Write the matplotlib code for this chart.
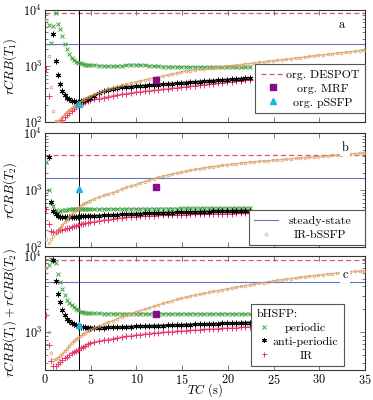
import numpy as np
import matplotlib
matplotlib.use('Agg')
import matplotlib.pyplot as plt
from matplotlib.lines import Line2D
from matplotlib.offsetbox import VPacker
from matplotlib.ticker import LogLocator, NullFormatter

plt.rcParams['font.family'] = ['cmr10', 'DejaVu Serif']
plt.rcParams['mathtext.fontset'] = 'cm'
plt.rcParams['axes.formatter.use_mathtext'] = True
plt.rcParams['axes.unicode_minus'] = False

nan = np.nan

# ---------------- data ----------------
TC_early = [0.15, 0.4, 0.65, 0.9, 1.15, 1.4, 1.65, 1.9, 2.15, 2.4,
            2.65, 2.9, 3.15, 3.4, 3.65, 3.9, 4.15, 4.4, 4.65, 4.9]
TC_late = np.arange(5.4, 22.41, 0.5)       # bHSFP samples (rest hidden by legend)
TC_late_tan = np.arange(5.4, 34.91, 0.5)   # IR-bSSFP samples

# panel a : rCRB(T1)
a_per_early = [nan, 5400, 2600, 5200, 8700, 5600, 4600, 3500, 2500, 1980, 1620, 1420, 1300, 1210, 1160, 1120, 1090, 1070, 1055, 1045]
a_per_late = [1035, 1020, 1005, 995, 990, 995, 1010, 1035, 1055, 1060, 1050, 1035, 1015, 1000, 990, 985, 980, 976, 973, 970, 968, 966, 964, 962, 960, 958, 957, 956, 955, 954, 953, 952, 951, 950, 950]
a_anti_early = [nan, nan, nan, 3700, 1250, 700, 480, 365, 310, 272, 255, 243, 236, 232, 232, 236, 243, 252, 263, 276]
a_anti_late = [300, 328, 355, 378, 394, 407, 417, 424, 431, 438, 445, 451, 457, 463, 470, 476, 483, 489, 496, 503, 510, 517, 524, 531, 538, 545, 552, 559, 567, 574, 582, 590, 598, 606, 614]
a_ir_early = [880, 300, 90, 75, 75, 88, 102, 112, 123, 135, 147, 160, 173, 187, 200, 212, 222, 231, 239, 247]
a_ir_late = [255, 265, 275, 285, 295, 305, 315, 325, 335, 342, 349, 356, 364, 372, 379, 387, 395, 404, 412, 421, 430, 439, 448, 457, 467, 476, 486, 497, 507, 518, 528, 540, 551, 562, 574]
a_tan_early = [6600, 1500, 420, 160, 104, 104, 112, 125, 138, 152, 165, 178, 192, 205, 218, 232, 247, 262, 277, 292]
a_tan_late = [316, 339, 363, 389, 412, 434, 455, 476, 497, 519, 542, 566, 592, 617, 643, 668, 695, 721, 755, 794,
              816, 834, 853, 873, 892, 912, 932, 953, 975, 996, 1019, 1042, 1065, 1089, 1113, 1138, 1164, 1190, 1217, 1244,
              1272, 1301, 1330, 1360, 1390, 1422, 1454, 1486, 1520, 1554, 1589, 1624, 1661, 1698, 1736, 1775, 1815, 1856, 1897, 1940]

# panel b : rCRB(T2)
b_per_early = [3140, 1000, 600, 520, 440, 410, 420, 435, 445, 450, 455, 458, 460, 460, 458, 456, 455, 455, 456, 457]
b_per_late = [458, 458, 459, 460, 460, 461, 462, 462, 463, 464, 465, 466, 466, 467, 468, 469, 470, 470, 471, 472, 473, 474, 474, 475, 476, 477, 478, 478, 479, 480, 481, 482, 483, 484, 485]
b_anti_early = [nan, 3820, 620, 425, 375, 345, 335, 333, 333, 334, 335, 336, 337, 338, 340, 342, 344, 346, 348, 350]
b_anti_late = [350, 353, 356, 360, 363, 367, 370, 374, 377, 380, 383, 386, 389, 392, 394, 397, 399, 401, 403, 405, 407, 409, 411, 413, 415, 417, 419, 420, 422, 423, 425, 426, 428, 429, 430]
b_ir_early = [462, 248, 188, 180, 183, 188, 194, 200, 206, 212, 218, 224, 230, 236, 242, 248, 253, 258, 263, 268]
b_ir_late = [276, 284, 292, 300, 308, 315, 322, 328, 334, 339, 343, 347, 350, 353, 356, 359, 361, 363, 365, 367, 369, 371, 373, 375, 377, 378, 380, 381, 383, 384, 385, 386, 388, 389, 390]
b_tan_early = [135, 115, 135, 155, 175, 195, 215, 240, 270, 300, 335, 370, 410, 450, 490, 525, 560, 590, 620, 650]
b_tan_late = [690, 745, 800, 850, 900, 960, 1040, 1110, 1180, 1250, 1330, 1410, 1500, 1590, 1670, 1750, 1830, 1910, 1990, 2070,
              2150, 2230, 2300, 2380, 2450, 2520, 2590, 2660, 2720, 2790, 2850, 2910, 2970, 3030, 3090, 3140, 3190, 3240, 3290, 3340,
              3400, 3450, 3500, 3560, 3610, 3670, 3720, 3780, 3830, 3890, 3940, 4000, 4060, 4120, 4180, 4240, 4310, 4380, 4450, 4520]

# panel c : rCRB(T1) + rCRB(T2)
c_per_early = [nan, 7560, 9000, 8500, 8100, 5700, 4580, 3640, 3070, 2640, 2400, 2270, 2130, 2020, 1930, 1860, 1820, 1795, 1780, 1770]
c_per_late = [1760, 1755, 1750, 1748, 1745, 1743, 1742, 1741, 1740, 1740, 1739, 1739, 1738, 1738, 1738, 1737, 1737, 1737, 1736, 1736, 1736, 1736, 1735, 1735, 1735, 1735, 1735, 1734, 1734, 1734, 1734, 1734, 1733, 1733, 1733]
c_anti_early = [nan, nan, nan, 8800, 4670, 3130, 2460, 1960, 1680, 1490, 1400, 1330, 1280, 1240, 1200, 1180, 1165, 1155, 1150, 1148]
c_anti_late = [1146, 1146, 1148, 1152, 1157, 1162, 1168, 1174, 1180, 1186, 1192, 1198, 1204, 1210, 1216, 1222, 1228, 1234, 1240, 1246, 1252, 1258, 1264, 1270, 1276, 1282, 1288, 1294, 1300, 1306, 1312, 1318, 1324, 1330, 1336]
c_ir_early = [1680, 680, 420, 360, 358, 380, 405, 430, 455, 480, 505, 528, 550, 572, 593, 612, 640, 665, 690, 712]
c_ir_late = [735, 758, 780, 800, 820, 840, 860, 880, 900, 915, 930, 945, 958, 970, 982, 994, 1005, 1015, 1025, 1035, 1045, 1055, 1065, 1075, 1085, 1094, 1103, 1112, 1121, 1130, 1140, 1150, 1160, 1170, 1180]
c_tan_early = [6900, 1000, 530, 435, 440, 460, 485, 520, 565, 610, 660, 715, 765, 810, 850, 890, 935, 980, 1030, 1080]
c_tan_late = [1130, 1199, 1271, 1343, 1419, 1496, 1574, 1656, 1738, 1824, 1910, 2000, 2089, 2183, 2280, 2377, 2477, 2576, 2679, 2780,
              2871, 2958, 3048, 3133, 3221, 3311, 3404, 3491, 3581, 3673, 3767, 3864, 3963, 4064, 4159, 4256, 4355, 4457, 4560, 4656,
              4753, 4842, 4932, 5023, 5117, 5212, 5309, 5395, 5483, 5572, 5662, 5754, 5834, 5916, 5998, 6067, 6152, 6223, 6295, 6368]

# reference values per panel (a, b, c)
despot = [8740, 4140, 8800]
steady = [2480, 1610, 4580]
mrf_val = [570, 1140, 1730]
pssfp_val = [212, 1030, 1245]
TC_mrf = 12.1
TC_pssfp = 3.75
TC_vline = 3.75

panel_letters = ['a', 'b', 'c']
ylabels = [r'$rCRB(T_1)$', r'$rCRB(T_2)$', r'$rCRB(T_1) + rCRB(T_2)$']
ylims = [(100, 10000), (100, 10000), (320, 10000)]
xticks = [0, 5, 10, 15, 20, 25, 30, 35]

series = [
    (a_per_early + a_per_late, a_anti_early + a_anti_late, a_ir_early + a_ir_late, a_tan_early + a_tan_late),
    (b_per_early + b_per_late, b_anti_early + b_anti_late, b_ir_early + b_ir_late, b_tan_early + b_tan_late),
    (c_per_early + c_per_late, c_anti_early + c_anti_late, c_ir_early + c_ir_late, c_tan_early + c_tan_late),
]

# ---------------- styles ----------------
C_GREEN = '#3fa23f'
C_BLACK = '#000000'
C_RED = '#e8336b'
C_TAN = '#d69a5c'
C_DASH = '#e0507e'
C_BLUE = '#6a72c8'
C_PURPLE = '#8b0a8b'
C_CYAN = '#1fb3e8'
FS = 8.6

fig = plt.figure(figsize=(3.73, 4.0), dpi=100)
W, H = 373.0, 400.0
boxes = [(10, 122.3), (133.3, 246.7), (255.7, 370)]
axes = []
for (top, bot) in boxes:
    axes.append(fig.add_axes([45 / W, 1 - bot / H, 320 / W, (bot - top) / H]))

tc_b = list(TC_early) + list(TC_late)
tc_t = list(TC_early) + list(TC_late_tan)
BAND_START = 11   # band look (connecting line) from TC ~2.9 on
TAN_START = 4


def centered_legend(ax, handles, labels, anchor, title=None, hl=2.0, min_w=0):
    leg = ax.legend(handles, labels, loc='lower right', bbox_to_anchor=anchor,
                    borderaxespad=0, frameon=True, fancybox=False, edgecolor='#555555',
                    framealpha=1, fontsize=FS, handlelength=hl, handletextpad=0.15,
                    borderpad=0.45, labelspacing=0.3, title=title, title_fontsize=FS,
                    alignment='left')
    leg.get_frame().set_linewidth(0.8)
    leg.set_zorder(20)
    try:
        fig.canvas.draw()
        r = fig.canvas.get_renderer()
        col = leg._legend_handle_box.get_children()[0]
        rows = col.get_children()
        tas = [row.get_children()[1] for row in rows]
        wmax = max(max(ta.get_bbox(r).width for ta in tas), min_w)
        for row, ta in zip(rows, tas):
            vp = VPacker(children=[ta], pad=0, sep=0, width=wmax, align='center')
            row._children[1] = vp
            vp.set_figure(fig)
    except Exception:
        pass
    return leg


for i, ax in enumerate(axes):
    per, anti, ir, tan = series[i]
    ax.set_yscale('log')
    ax.set_xlim(0, 35)
    ax.set_ylim(*ylims[i])
    ax.axhline(despot[i], color=C_DASH, lw=0.9, ls=(0, (4, 2.5)), zorder=1)
    ax.axhline(steady[i], color=C_BLUE, lw=0.8, zorder=1)
    ax.axvline(TC_vline, color='black', lw=0.7, zorder=1)
    # band fill (connecting lines through the dense samples)
    ax.plot(tc_b[BAND_START:], per[BAND_START:], lw=1.6, color=C_GREEN, alpha=0.55, zorder=2)
    ax.plot(tc_b[BAND_START:], ir[BAND_START:], lw=1.6, color=C_RED, alpha=0.45, zorder=2)
    ax.plot(tc_b[BAND_START:], anti[BAND_START:], lw=1.6, color=C_BLACK, alpha=0.7, zorder=2)
    ax.plot(tc_t[TAN_START:], tan[TAN_START:], lw=1.1, color=C_TAN, alpha=0.6, zorder=4)
    # markers
    ax.plot(tc_b, per, ls='none', marker='x', ms=3.4, mew=0.7, color=C_GREEN, zorder=3)
    ax.plot(tc_b, ir, ls='none', marker='+', ms=4.0, mew=0.7, color=C_RED, zorder=3)
    ax.plot(tc_b, anti, ls='none', marker=(6, 2, 0), ms=4.0, mew=0.7, color=C_BLACK, zorder=3)
    ax.plot(tc_t, tan, ls='none', marker='o', ms=2.0, mew=0.5, mfc='none', color=C_TAN, zorder=5)
    ax.plot([TC_mrf], [mrf_val[i]], ls='none', marker='s', ms=5, color=C_PURPLE, zorder=6)
    ax.plot([TC_pssfp], [pssfp_val[i]], ls='none', marker='^', ms=4.5, color=C_CYAN, zorder=6)

    ax.set_xticks(xticks)
    ax.yaxis.set_major_locator(LogLocator(base=10, numticks=10))
    ax.yaxis.set_minor_locator(LogLocator(base=10, subs=np.arange(2, 10), numticks=20))
    ax.yaxis.set_minor_formatter(NullFormatter())
    ax.tick_params(which='both', direction='in', top=True, right=True, color='#666666',
                   labelsize=FS + 0.2, width=0.6, pad=2)
    ax.tick_params(which='major', length=3.5)
    ax.tick_params(which='minor', length=2)
    for s in ax.spines.values():
        s.set_linewidth(0.8)
        s.set_color('#333333')
    ax.set_ylabel(ylabels[i], fontsize=FS + 0.6)
    ax.yaxis.set_label_coords(-0.082, 0.5)
    if i < 2:
        ax.tick_params(labelbottom=False)

    lx = [0.927, 0.9375, 0.9375][i]
    ly = [0.866, 0.868, 0.83][i]
    ax.text(lx, ly, panel_letters[i], transform=ax.transAxes, ha='center', va='center',
            fontsize=FS + 0.3, zorder=8,
            bbox=dict(facecolor='white', edgecolor='none', pad=1.5))

axes[2].set_xlabel(r'$TC$ (s)', fontsize=FS + 0.4)
axes[2].xaxis.label.set_va('center')
axes[2].xaxis.set_label_coords(0.5, -0.175)

# legends
h_despot = Line2D([], [], color=C_DASH, lw=0.9, ls=(0, (4, 2.5)))
h_mrf = Line2D([], [], ls='none', marker='s', ms=4.5, color=C_PURPLE)
h_pssfp = Line2D([], [], ls='none', marker='^', ms=4.0, color=C_CYAN)
centered_legend(axes[0], [h_despot, h_mrf, h_pssfp], ['org. DESPOT', 'org. MRF', 'org. pSSFP'],
                anchor=(1.0, 0.083))

h_ss = Line2D([], [], color=C_BLUE, lw=0.8)
h_tan = Line2D([], [], ls='none', marker='o', ms=2.0, mew=0.5, mfc='none', color=C_TAN)
centered_legend(axes[1], [h_ss, h_tan], ['steady-state', 'IR-bSSFP'], anchor=(1.0, 0.012), min_w=80)

h_per = Line2D([], [], ls='none', marker='x', ms=3.0, mew=0.7, color=C_GREEN)
h_anti = Line2D([], [], ls='none', marker=(6, 2, 0), ms=3.6, mew=0.7, color=C_BLACK)
h_ir = Line2D([], [], ls='none', marker='+', ms=3.6, mew=0.7, color=C_RED)
centered_legend(axes[2], [h_per, h_anti, h_ir], ['periodic', 'anti-periodic', 'IR'],
                anchor=(0.934, 0.035), title='bHSFP:', hl=1.2)

fig.savefig('out.png', dpi=100)
